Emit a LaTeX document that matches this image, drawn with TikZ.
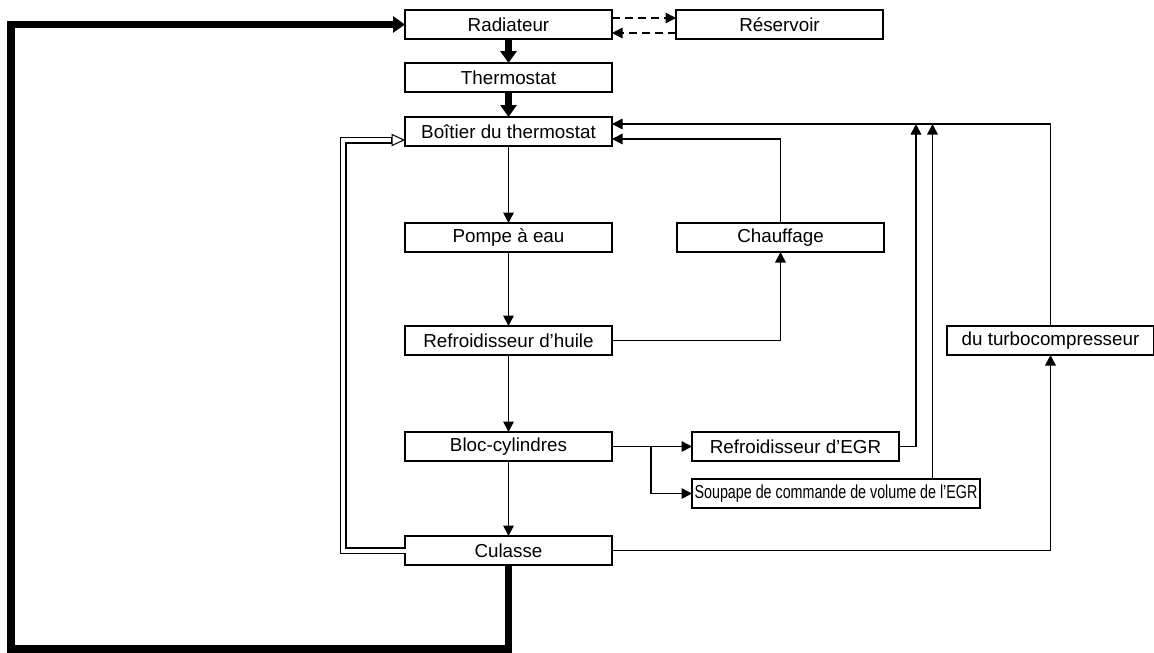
\documentclass[tikz,border=0pt]{standalone}
\usepackage{fontspec}
\setmainfont{Liberation Sans}
\usetikzlibrary{positioning,calc,arrows.meta}

\begin{document}
\begin{tikzpicture}[
				box/.style={rectangle, draw=black, line width=0.7pt, outer sep=0pt, minimum width=4.14cm, minimum height=0.58cm, inner sep=0pt, font=\fontsize{10.7}{12}\selectfont},
				thin/.style={line width=0.9pt, -{Triangle[length=0.21cm, width=0.21cm]}},
				heavy/.style={line width=4pt, -{Triangle[length=0.24cm, width=0.32cm]}},
				flowdash/.style={thin, dash pattern=on 0.16cm off 0.1cm}
			]
			\useasboundingbox (0,0) rectangle (23.08,-13.04);
			\node[box] (radiateur) at (10.17,-0.49) {Radiateur};
			\node[box] (thermostat) [below=0.48cm of radiateur] {Thermostat};
			\node[box] (boitier) [below=0.5cm of thermostat] {Boîtier du thermostat};
			\node[box] (pompe) [below=1.54cm of boitier] {Pompe à eau};
			\node[box] (huile) [below=1.48cm of pompe] {Refroidisseur d’huile};
			\node[box] (bloc) [below=1.54cm of huile] {Bloc-cylindres};
			\node[box] (culasse) [below=1.5cm of bloc] {Culasse};
			\node[box] (reservoir) [right=1.28cm of radiateur] {Réservoir};
			\node[box] (chauffage) [right=1.3cm of pompe] {Chauffage};
			\node[box] (egr) [right=1.6cm of bloc] {Refroidisseur d’EGR};
			\node[box, minimum width=5.76cm] (soupape) [below right=0.36cm and 0cm of egr.south west] {\scalebox{0.76}[1]{Soupape de commande de volume de l’EGR}};
			\node[box] (turbo) [right=6.70cm of huile] {du turbocompresseur};
			\coordinate (loopcorner) at (0.22,-12.98);
			\coordinate (topline) at ([yshift=0.15cm]boitier.east);
			\coordinate (heatline) at ([yshift=-0.15cm]boitier.east);
			\coordinate (dblend) at ([xshift=-0.27cm, yshift=-0.17cm]boitier.west);
			\coordinate (dblcorner) at ($(culasse.west)+(-1.24,0)$);
			\coordinate (egrup) at ($(egr.east)+(0.34,0)$);
			\coordinate (soupup) at ([xshift=1.93cm]soupape.north);
			\coordinate (branch) at ($(bloc.east)+(0.78,0)$);
			% gros circuit
			\draw[heavy] (culasse.south) |- (loopcorner) |- (radiateur.west);
			\draw[heavy] (radiateur.south) -- (thermostat.north);
			\draw[heavy] (thermostat.south) -- (boitier.north);
			% vase
			\draw[flowdash] ([yshift=0.13cm]radiateur.east) -- ([yshift=0.13cm]reservoir.west);
			\draw[flowdash] ([yshift=-0.17cm]reservoir.west) -- ([yshift=-0.17cm]radiateur.east);
			% circuit principal
			\begin{scope}[thin]
			\draw (boitier.south) -- (pompe.north);
			\draw (pompe.south) -- (huile.north);
			\draw (huile.south) -- (bloc.north);
			\draw (bloc.south) -- (culasse.north);
			\draw (huile.east) -| (chauffage.south);
			\draw (chauffage.north) |- (heatline);
			\draw (turbo.north) |- (topline);
			\draw (bloc.east) -- (egr.west);
			\draw (branch) |- (soupape.west);
			\draw (egr.east) -- (egrup) -- (egrup |- topline);
			\draw (soupup) -- (soupup |- topline);
			\draw (culasse.east) -| (turbo.south);
			\end{scope}
			% retour double
			\draw[line width=0.14cm, line join=miter] (culasse.west) -- (dblcorner) |- (dblend);
			\draw[white, line width=0.08cm, line join=miter] ([xshift=0.5pt]culasse.west) -- (dblcorner) |- ([xshift=-0.3pt]dblend);
			\draw[line width=0.6pt, -{Triangle[length=0.27cm, width=0.25cm, fill=white]}] (dblend) -- (dblend -| boitier.west);
			\end{tikzpicture}
\end{document}
